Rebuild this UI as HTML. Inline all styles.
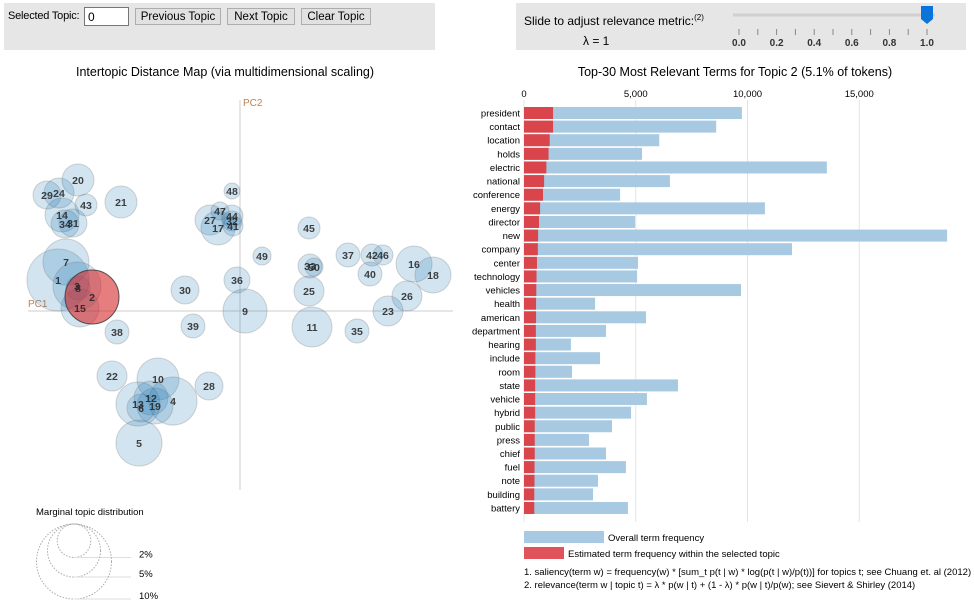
<!DOCTYPE html>
<html><head><meta charset="utf-8">
<style>
body{margin:0;width:974px;height:614px;background:#fff;font-family:"Liberation Sans",Arial,sans-serif;position:relative;overflow:hidden}
.box{position:absolute;background:#e6e6e6}
.btn{position:absolute;top:8px;height:17px;background:#e1e1e1;border:1px solid #adadad;font-size:11.5px;line-height:16px;text-align:center;color:#000;box-sizing:border-box}
svg text{font-family:"Liberation Sans",Arial,sans-serif}
</style></head><body>
<div class="box" style="left:4px;top:3px;width:431px;height:47px"></div>
<div style="position:absolute;left:8px;top:10px;font-size:11px;letter-spacing:-0.2px">Selected Topic:</div>
<div style="position:absolute;left:84px;top:7px;width:45px;height:19px;box-sizing:border-box;background:#fff;border:1px solid #767676;font-size:12px;padding:2px 3px">0</div>
<div class="btn" style="left:135px;width:86px">Previous Topic</div>
<div class="btn" style="left:227px;width:68px">Next Topic</div>
<div class="btn" style="left:301px;width:70px">Clear Topic</div>
<div class="box" style="left:516px;top:3px;width:450px;height:47px"></div>
<div style="position:absolute;left:524px;top:13px;font-size:12px">Slide to adjust relevance metric:<sup style="font-size:8px">(2)</sup></div>
<div style="position:absolute;left:583px;top:34px;font-size:12px">λ = 1</div>
<svg id="main" width="974" height="614" style="position:absolute;left:0;top:0"></svg>
<script>
// ---- intertopic map data ----
const topicIds=[20,29,24,43,14,34,31,21,7,1,3,8,15,38,30,39,36,9,48,47,27,17,44,32,41,45,49,33,50,25,11,37,42,46,40,16,18,26,23,35,22,10,28,4,13,6,12,19,5,2];
const pc1=[-0.162,-0.193,-0.181,-0.154,-0.178,-0.175,-0.167,-0.119,-0.174,-0.182,-0.163,-0.162,-0.160,-0.123,-0.055,-0.047,-0.003,0.005,-0.008,-0.020,-0.030,-0.022,-0.008,-0.008,-0.007,0.069,0.022,0.070,0.074,0.069,0.072,0.108,0.132,0.143,0.130,0.174,0.193,0.167,0.148,0.117,-0.128,-0.082,-0.031,-0.067,-0.102,-0.099,-0.089,-0.085,-0.101,-0.148];
const pc2=[0.131,0.116,0.118,0.106,0.096,0.087,0.088,0.109,0.049,0.031,0.025,0.023,0.003,-0.021,0.021,-0.015,0.031,0.000,0.120,0.100,0.091,0.083,0.095,0.090,0.085,0.083,0.055,0.045,0.044,0.020,-0.016,0.056,0.056,0.056,0.037,0.047,0.036,0.015,0.000,-0.020,-0.065,-0.068,-0.075,-0.090,-0.093,-0.097,-0.087,-0.095,-0.132,0.014];
const topicPct=[1.82,1.39,1.6,0.86,2.05,1.39,1.39,1.82,3.76,6.83,4.1,1.02,2.57,1.02,1.39,1.02,1.2,3.44,0.45,0.58,1.6,2.05,0.86,0.71,0.71,0.86,0.58,1.02,0.58,1.6,2.84,1.02,0.86,0.71,1.02,2.3,2.3,1.6,1.6,1.02,1.6,3.14,1.39,4.1,3.44,1.39,2.05,2.3,3.76,5.18];
const selectedTopic=2;
const legendPct=[2,5,10];
// ---- bar chart data ----
const terms=["president","contact","location","holds","electric","national","conference","energy","director","new","company","center","technology","vehicles","health","american","department","hearing","include","room","state","vehicle","hybrid","public","press","chief","fuel","note","building","battery"];
const overallFreq=[9750,8600,6050,5280,13550,6530,4300,10780,4970,18930,11990,5100,5060,9710,3180,5460,3670,2100,3400,2150,6890,5500,4790,3940,2910,3670,4560,3310,3090,4650];
const topicFreq=[1300,1300,1150,1100,1000,900,850,720,670,630,620,580,560,550,540,540,530,530,510,510,500,500,500,480,480,480,470,470,460,460];
const xTicks=[0,5000,10000,15000];
const sliderTicks=[0,0.2,0.4,0.6,0.8,1.0];
const lambda=1;

const NS="http://www.w3.org/2000/svg";
const svg=document.getElementById('main');
function mk(tag,attrs,parent,text){const e=document.createElementNS(NS,tag);for(const k in attrs)e.setAttribute(k,attrs[k]);if(text!==undefined)e.textContent=text;(parent||svg).appendChild(e);return e;}

// slider
const sx=v=>739+v*188;
let e=mk('line',{x1:733,y1:15,x2:935,y2:15,stroke:'#d0d0d0','stroke-width':3});


for(let i=0;i<=10;i++){const v=i/10;e=mk('line',{x1:sx(v),y1:29,x2:sx(v),y2:35,stroke:'#888'});

}
sliderTicks.forEach(v=>{e=mk('text',{x:sx(v),y:46,'font-size':10,'font-weight':'bold','text-anchor':'middle',fill:'#333'},svg,v.toFixed(1));

});
e=mk('path',{d:`M${sx(lambda)-6},6 h12 v13 l-6,5 l-6,-5 z`,fill:'#0a74da'});



// titles
e=mk('text',{x:225,y:76,'font-size':12.5,'text-anchor':'middle'},svg,'Intertopic Distance Map (via multidimensional scaling)');


e=mk('text',{x:735,y:76,'font-size':12.5,'text-anchor':'middle'},svg,'Top-30 Most Relevant Terms for Topic 2 (5.1% of tokens)');



// map axes
const mx=v=>240+v*1000, my=v=>311-v*1000, rr=p=>118.6*Math.sqrt(p/100);
e=mk('line',{x1:28,y1:311,x2:453,y2:311,stroke:'#ccc'});


e=mk('line',{x1:240,y1:100,x2:240,y2:490,stroke:'#ccc'});


e=mk('text',{x:28,y:307,'font-size':10,fill:'#c08050'},svg,'PC1');


e=mk('text',{x:243,y:106,'font-size':10,fill:'#c08050'},svg,'PC2');



// bubbles
topicIds.forEach((t,i)=>{const sel=t===selectedTopic;
 e=mk('circle',{cx:mx(pc1[i]),cy:my(pc2[i]),r:rr(topicPct[i]),fill:sel?'#d62728':'#1f77b4','fill-opacity':sel?0.6:0.2,stroke:sel?'#333':'#777','stroke-opacity':sel?0.8:0.3});
 
 });
topicIds.forEach((t,i)=>{
 e=mk('text',{x:mx(pc1[i]),y:my(pc2[i])+4,'font-size':10.5,'font-weight':'bold','text-anchor':'middle',fill:'#222','fill-opacity':0.85},svg,String(t));
 
 });

// size legend
e=mk('text',{x:36,y:515,'font-size':9.5},svg,'Marginal topic distribution');


legendPct.forEach(p=>{const r=rr(p);const cy=524+r;
 e=mk('circle',{cx:74,cy:cy,r:r,fill:'none',stroke:'#aaa','stroke-dasharray':'1.5,1.5'});
 
 
 e=mk('line',{x1:74,y1:cy+r,x2:131,y2:cy+r,stroke:'#ddd'});
 
 
 e=mk('text',{x:139,y:cy+r,'font-size':9.5},svg,p+'%');
 
 });

// bar chart
const bx=v=>524+v*0.02235, by=i=>113+i*13.62;
xTicks.forEach(v=>{
 e=mk('line',{x1:bx(v),y1:100,x2:bx(v),y2:522,stroke:'#e4e4e4'});
 
 
 e=mk('text',{x:bx(v),y:97,'font-size':9.5,'text-anchor':'middle'},svg,v.toLocaleString('en-US'));
 
 });
terms.forEach((t,i)=>{
 e=mk('rect',{x:bx(0),y:by(i)-6,width:bx(overallFreq[i])-bx(0),height:12,fill:'#a8c9e2'});
 
 
 e=mk('rect',{x:bx(0),y:by(i)-6,width:bx(topicFreq[i])-bx(0),height:12,fill:'#d9454b'});
 
 
 e=mk('text',{x:520,y:by(i)+3.5,'font-size':9.5,'text-anchor':'end'},svg,t);
 
 });

// bar legend
e=mk('rect',{x:524,y:531,width:80,height:12,fill:'#a8c9e2'});


e=mk('text',{x:608,y:541,'font-size':9.5},svg,'Overall term frequency');


e=mk('rect',{x:524,y:547,width:40,height:12,fill:'#e0535a'});


e=mk('text',{x:568,y:557,'font-size':9.5},svg,'Estimated term frequency within the selected topic');


e=mk('text',{x:524,y:575,'font-size':9.5},svg,'1. saliency(term w) = frequency(w) * [sum_t p(t | w) * log(p(t | w)/p(t))] for topics t; see Chuang et. al (2012)');


e=mk('text',{x:524,y:588,'font-size':9.5},svg,'2. relevance(term w | topic t) = λ * p(w | t) + (1 - λ) * p(w | t)/p(w); see Sievert & Shirley (2014)');


</script>
</body></html>
